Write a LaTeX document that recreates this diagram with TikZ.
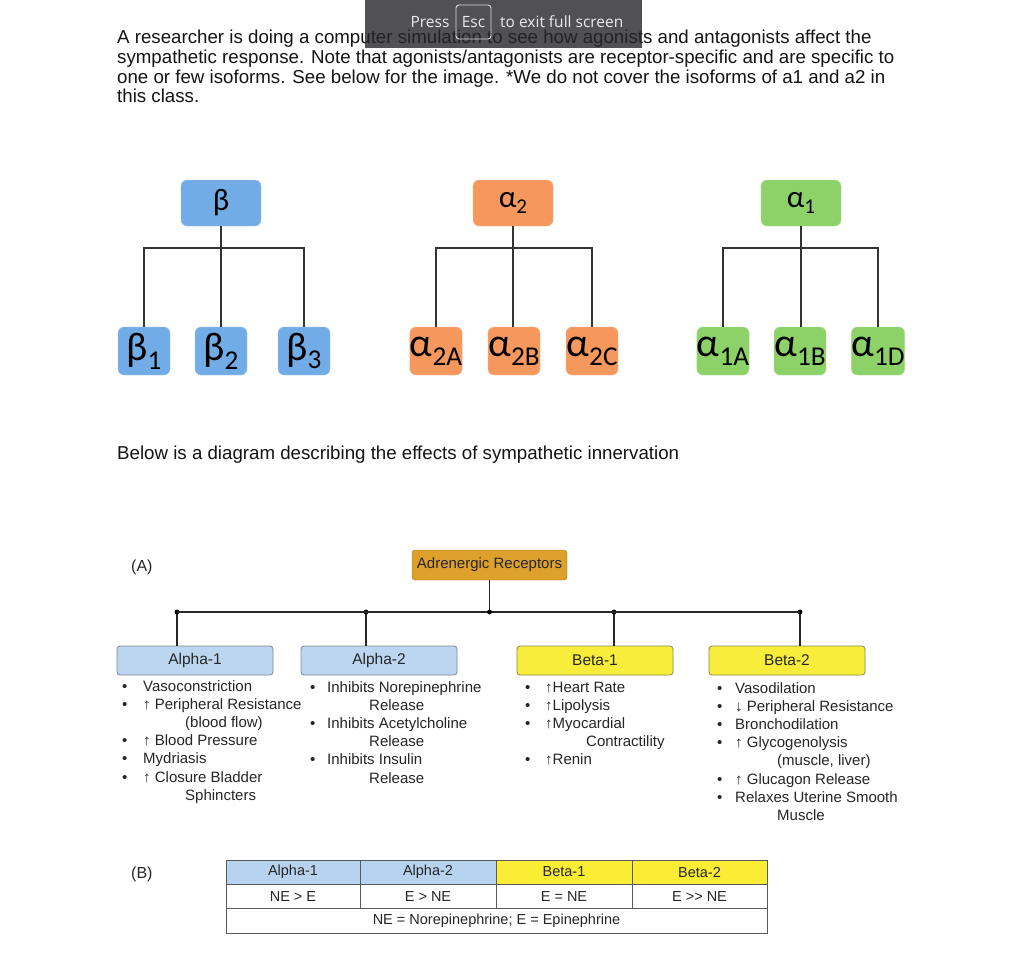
\documentclass[tikz,border=0pt]{standalone}
\usepackage{fontspec}
\setmainfont{Liberation Sans}
\newfontfamily\greekfont{Carlito}
\newfontfamily\overlayfont{Open Sans}
\usetikzlibrary{positioning}

\definecolor{betablue}{RGB}{114,172,230}
\definecolor{atwoorange}{RGB}{246,152,94}
\definecolor{aonegreen}{RGB}{140,210,104}
\definecolor{adrgold}{RGB}{221,160,42}
\definecolor{rcpblue}{RGB}{188,213,240}
\definecolor{rcpyellow}{RGB}{247,237,58}
\definecolor{tabblue}{RGB}{184,211,239}
\definecolor{tabyellow}{RGB}{250,237,52}
\definecolor{overlaygray}{RGB}{38,38,42}

\newcommand{\isosub}[1]{\raisebox{-0.22em}{\scalebox{0.68}{#1}}}

\tikzset{
    qtext/.style={anchor=base west, inner sep=0pt, font=\fontsize{18.7}{19.5}\selectfont, text=black!92},
    parentbox/.style={rounded corners=6pt, minimum width=80pt, minimum height=46pt, inner sep=0pt, font=\fontsize{31}{31}\greekfont},
    childbox/.style={rounded corners=6pt, minimum width=52pt, minimum height=48pt, inner sep=0pt, font=\fontsize{40}{40}\greekfont},
    treeline/.style={line width=1.6pt, draw=black!80},
    rcpline/.style={line width=1.3pt, draw=black!85},
    rcpbox/.style={draw, line width=0.8pt, rounded corners=3pt, minimum width=156pt, minimum height=29pt, inner sep=0pt, font=\fontsize{15.5}{15.5}\selectfont, text=black!85},
    effects/.style={anchor=base west, inner sep=0pt, font=\fontsize{15}{18.2}\selectfont, text=black!85},
    tabcell/.style={draw=black!65, line width=0.8pt, minimum height=24pt, inner sep=0pt, font=\fontsize{14.5}{14.5}\selectfont, text=black!85},
    panellabel/.style={anchor=base west, inner sep=0pt, font=\fontsize{16}{16}\selectfont, text=black!85},
    overlaytext/.style={inner sep=0pt, font=\fontsize{15.5}{15.5}\overlayfont, text=white!92!black}
}

\begin{document}
\begin{tikzpicture}[x=1pt,y=-1pt]
    \useasboundingbox (0,0) rectangle (1024,966);
    \fill[white] (0,0) rectangle (1024,966);

    % question text
    \foreach \t [count=\i] in {
        {A researcher is doing a computer simulation to see how agonists and antagonists affect the},
        {sympathetic response. Note that agonists/antagonists are receptor-specific and are specific to},
        {one or few isoforms. See below for the image. *We do not cover the isoforms of a1 and a2 in},
        {this class.}}{
        \node[qtext] (q\i) at (117,{44+19.5*(\i-1)}) {\t};
    }

    % receptor isoform trees
    \node[parentbox, fill=betablue, draw=betablue!70!white] (beta) at (221,203) {β};
    \node[parentbox, fill=atwoorange, draw=atwoorange!70!white] (atwo) at (513,203) {α\isosub{2}};
    \node[parentbox, fill=aonegreen, draw=aonegreen!70!white] (aone) at (801,203) {α\isosub{1}};
    \foreach \n/\x/\s in {1/144/1, 2/221/2, 3/304/3}
        \node[childbox, fill=betablue, draw=betablue!70!white] (beta\n) at (\x,351) {β\isosub{\s}};
    \foreach \n/\x/\s in {1/436/2A, 2/514/2B, 3/592/2C}
        \node[childbox, fill=atwoorange, draw=atwoorange!70!white] (atwo\n) at (\x,351) {α\isosub{\s}};
    \foreach \n/\x/\s in {1/723/1A, 2/800/1B, 3/878/1D}
        \node[childbox, fill=aonegreen, draw=aonegreen!70!white] (aone\n) at (\x,351) {α\isosub{\s}};
    \foreach \g in {beta, atwo, aone}{
        \coordinate (\g j) at (\g.south |- 0,248);
        \draw[treeline] (\g.south) -- (\g.south |- \g2.north);
        \draw[treeline] (\g1.north) -- (\g1.north |- \g j) -- (\g3.north |- \g j) -- (\g3.north);
    }

    \node[qtext] (below) at (117,459) {Below is a diagram describing the effects of sympathetic innervation};

    % (A) adrenergic receptors
    \node[panellabel] (labA) at (131,571) {(A)};
    \node[draw=adrgold!75!black, fill=adrgold, rounded corners=3pt, minimum width=155pt, minimum height=30pt,
          inner sep=0pt, font=\fontsize{15}{15}\selectfont, text=black!85] (adr) at (489.5,565) {Adrenergic Receptors};
    \coordinate (adrj) at (adr.south |- 0,612);
    \node[rcpbox, fill=rcpblue, draw=rcpblue!50!black!80] (alpha1) at (195,660.5) {Alpha-1};
    \node[rcpbox, fill=rcpblue, draw=rcpblue!50!black!80] (alpha2) at (379,660.5) {Alpha-2};
    \node[rcpbox, fill=rcpyellow, draw=rcpyellow!45!black!80] (beta1r) at (595,660.5) {Beta-1};
    \node[rcpbox, fill=rcpyellow, draw=rcpyellow!45!black!80] (beta2r) at (787,660.5) {Beta-2};
    \foreach \r/\x in {alpha1/177, alpha2/366, beta1r/614, beta2r/800}{
        \coordinate (\r j) at (\x,612);
        \draw[rcpline] (\r j) -- (\r j |- \r.north);
        \fill (\r j) circle (2.4pt);
    }
    \draw[rcpline] (adr.south) -- (adrj);
    \draw[rcpline] (alpha1j) -- (beta2rj);
    \fill (adrj) circle (2.4pt);

    % effect lists
    \node[effects] (alpha1fx) at (122,691) {\begin{tabular}[t]{@{}p{21pt}@{}l@{}}
        \textbullet & Vasoconstriction\\
        \textbullet & ↑ Peripheral Resistance\\
                    & \hspace{42pt}(blood flow)\\
        \textbullet & ↑ Blood Pressure\\
        \textbullet & Mydriasis\\
        \textbullet & ↑ Closure Bladder\\
                    & \hspace{42pt}Sphincters
        \end{tabular}};
    \node[effects] (alpha2fx) at (310,692) {\begin{tabular}[t]{@{}p{17pt}@{}l@{}}
        \textbullet & Inhibits Norepinephrine\\
                    & \hspace{42pt}Release\\
        \textbullet & Inhibits Acetylcholine\\
                    & \hspace{42pt}Release\\
        \textbullet & Inhibits Insulin\\
                    & \hspace{42pt}Release
        \end{tabular}};
    \node[effects] (beta1fx) at (525,692) {\begin{tabular}[t]{@{}p{20pt}@{}l@{}}
        \textbullet & ↑Heart Rate\\
        \textbullet & ↑Lipolysis\\
        \textbullet & ↑Myocardial\\
                    & \hspace{41pt}Contractility\\
        \textbullet & ↑Renin
        \end{tabular}};
    \node[effects] (beta2fx) at (717,693) {\begin{tabular}[t]{@{}p{18pt}@{}l@{}}
        \textbullet & Vasodilation\\
        \textbullet & ↓ Peripheral Resistance\\
        \textbullet & Bronchodilation\\
        \textbullet & ↑ Glycogenolysis\\
                    & \hspace{42pt}(muscle, liver)\\
        \textbullet & ↑ Glucagon Release\\
        \textbullet & Relaxes Uterine Smooth\\
                    & \hspace{42pt}Muscle
        \end{tabular}};

    % (B) potency table
    \node[panellabel] (labB) at (131,878) {(B)};
    \foreach \c/\x/\w/\col/\head/\rank in {1/293/134/tabblue/Alpha-1/{NE > E}, 2/428/136/tabblue/Alpha-2/{E > NE},
                                          3/564/136/tabyellow/Beta-1/{E = NE}, 4/699.5/135/tabyellow/Beta-2/{E >{}> NE}}{
        \node[tabcell, fill=\col, minimum width=\w pt] (head\c) at (\x,872) {\head};
        \node[tabcell, minimum width=\w pt] (rank\c) at (\x,896) {\rank};
    }
    \node[tabcell, minimum width=541pt, minimum height=25pt] (note) at (496.5,920.5) {NE = Norepinephrine; E = Epinephrine};

    % full screen overlay
    \fill[overlaygray, opacity=0.8] (365,0) rectangle (642,48);
    \node[overlaytext] (press) at (430,22) {Press};
    \node[overlaytext, draw=white!85!black, line width=0.9pt, rounded corners=3pt, minimum width=35pt, minimum height=34pt] (esc) at (473.5,22) {Esc};
    \node[overlaytext, anchor=west] (exit) at (500,22) {to exit full screen};
\end{tikzpicture}
\end{document}
